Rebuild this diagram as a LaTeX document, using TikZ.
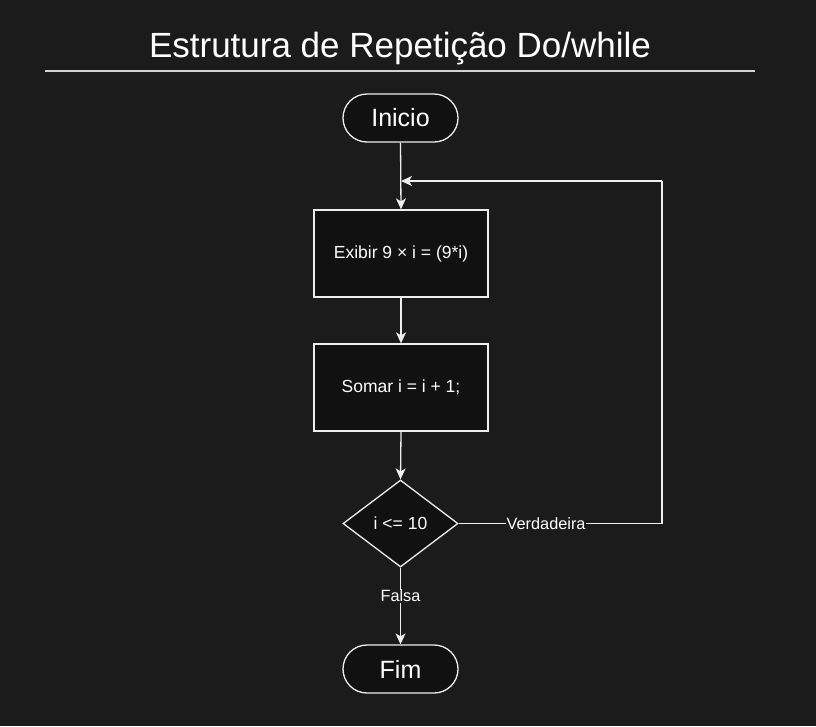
\documentclass[tikz,border=0pt]{standalone}
\usepackage{fontspec}
\setmainfont{Liberation Sans}
\usetikzlibrary{shapes.geometric,arrows.meta}
\definecolor{bg}{RGB}{27,27,27}
\definecolor{nodefill}{RGB}{17,17,17}
\definecolor{edge}{RGB}{238,238,238}
\begin{document}
\begin{tikzpicture}[x=1pt,y=-1pt,
  every node/.style={text=white},
  term/.style={draw=edge,fill=nodefill,line width=1.3pt,rounded corners=24pt,minimum width=115pt,minimum height=48pt,inner sep=0pt,font=\fontsize{25}{30}\selectfont},
  proc/.style={draw=edge,fill=nodefill,line width=1.3pt,minimum width=174pt,minimum height=87pt,inner sep=0pt,font=\fontsize{17.5}{21}\selectfont},
  dec/.style={draw=edge,fill=nodefill,line width=1.3pt,diamond,minimum width=115pt,minimum height=87pt,inner sep=0pt,aspect=1.32,font=\fontsize{17.5}{21}\selectfont},
  conn/.style={draw=edge,line width=1.3pt,-{Stealth[length=11pt,width=10pt,inset=3pt]}},
  line/.style={draw=edge,line width=1.3pt},
  lbl/.style={fill=bg,inner sep=0.5pt,font=\fontsize{16.3}{19}\selectfont}]
\fill[bg] (0,0) rectangle (816,726);
\useasboundingbox (0,0) rectangle (816,726);
\node[font=\fontsize{35}{42}\selectfont] (title) at (400,49) {Estrutura de Repetição Do/while};
\coordinate (hl) at (45,71);
\coordinate (hr) at (755,71);
\draw[line width=1.3pt,draw={rgb,255:red,210;green,210;blue,210}] (hl) -- (hr);
\node[term] (ini) at (400.5,118) {Inicio};
\node[proc] (exi) at (401,253.5) {Exibir 9 × i = (9*i)};
\node[proc] (som) at (401,387.5) {Somar i = i + 1;};
\node[dec] (cond) at (400.5,523.5) {i <= 10};
\node[term] (fim) at (400.5,669) {Fim};
\coordinate (r1) at (662,523.5);
\coordinate (r2) at (662,181);
\coordinate (r3) at (401,181);
\draw[conn] (ini.south) -- (exi.north);
\draw[conn] (exi.south) -- (som.north);
\draw[conn] (som.south) -- (cond.north);
\draw[conn] (cond.south) -- node[lbl,pos=0.37]{Falsa} (fim.north);
\draw[line] (cond.east) -- node[lbl,pos=0.43]{Verdadeira} (r1) -- (r2);
\draw[conn] (r2) -- (r3);
\end{tikzpicture}
\end{document}
